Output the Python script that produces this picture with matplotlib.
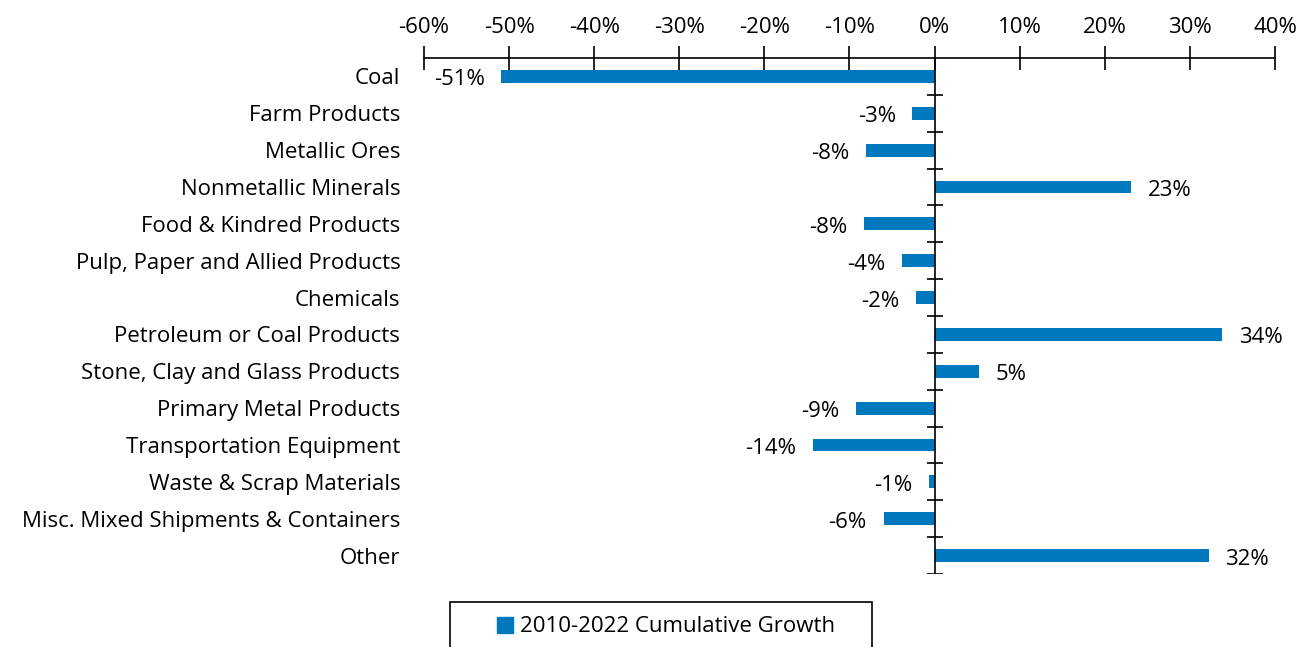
import matplotlib.pyplot as plt
from matplotlib.patches import Patch, Rectangle

# growth by commodity group, 2010-2022
categories = ["Coal", "Farm Products", "Metallic Ores", "Nonmetallic Minerals",
              "Food & Kindred Products", "Pulp, Paper and Allied Products", "Chemicals",
              "Petroleum or Coal Products", "Stone, Clay and Glass Products",
              "Primary Metal Products", "Transportation Equipment",
              "Waste & Scrap Materials", "Misc. Mixed Shipments & Containers", "Other"]
growth = [-50.9, -2.6, -8.1, 23.1, -8.3, -3.8, -2.2, 33.8, 5.2, -9.2, -14.3, -0.7, -6.0, 32.2]
labels = ["-51%", "-3%", "-8%", "23%", "-8%", "-4%", "-2%", "34%", "5%",
          "-9%", "-14%", "-1%", "-6%", "32%"]
xticks = [-60, -50, -40, -30, -20, -10, 0, 10, 20, 30, 40]

blue = "#0078BE"
fs = 16
plt.rcParams["font.family"] = ["Open Sans", "DejaVu Sans"]

fig = plt.figure(figsize=(13.15, 6.47), dpi=100)
ax = fig.add_axes([0.3224, 0.1128, 0.6472, 0.7976])

n = len(categories)
ypos = list(range(n))
ax.barh(ypos, growth, height=0.35, color=blue)
ax.set_xlim(-60, 40)
ax.set_ylim(n - 0.5, -0.5)

# top axis
ax.xaxis.tick_top()
ax.set_xticks(xticks)
ax.set_xticklabels([f"{t}%" for t in xticks], fontsize=fs)
ax.tick_params(axis="x", direction="inout", length=17, width=1.2, pad=6)
for s in ["left", "right", "bottom"]:
    ax.spines[s].set_visible(False)
ax.spines["top"].set_linewidth(1.2)

# category labels on the left
ax.set_yticks(ypos)
ax.set_yticklabels(categories, fontsize=fs)
ax.tick_params(axis="y", length=0, pad=17)

# vertical zero axis with ticks between categories
ax.axvline(0, color="black", lw=1.2)
bounds = [i - 0.5 for i in range(1, n + 1)]
ax.hlines(bounds, -0.95, 0.95, color="black", lw=1.2)

for y, v, lab in zip(ypos, growth, labels):
    if v < 0:
        ax.annotate(lab, (v, y), xytext=(-12, -2.5), textcoords="offset points",
                    ha="right", va="center", fontsize=fs)
    else:
        ax.annotate(lab, (v, y), xytext=(12, -2.5), textcoords="offset points",
                    ha="left", va="center", fontsize=fs)

# legend with a box that runs off the bottom edge
fig.legend(handles=[Patch(color=blue, label="2010-2022 Cumulative Growth")],
           loc="center", bbox_to_anchor=(666 / 1315, 1 - 627 / 647), fontsize=fs,
           frameon=False, handlelength=0.7, handleheight=0.7, handletextpad=0.3,
           borderpad=0, borderaxespad=0)
fig.patches.append(Rectangle((450 / 1315, 1 - 662 / 647), 422 / 1315, 60 / 647,
                             transform=fig.transFigure, fill=False,
                             edgecolor="black", lw=1.2))

fig.savefig("out.png", dpi=100)
